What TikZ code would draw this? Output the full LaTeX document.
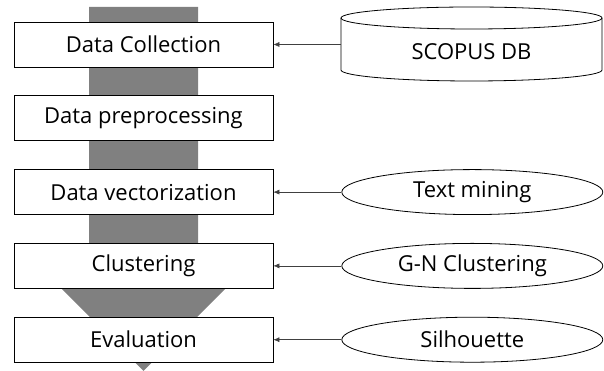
\documentclass[tikz,border=0pt]{standalone}
\usepackage{fontspec}
\setmainfont{Open Sans}
\usetikzlibrary{arrows.meta}
\usetikzlibrary{shapes.geometric}
\usetikzlibrary{positioning}
\definecolor{flowgray}{rgb}{0.5,0.5,0.5}
\tikzset{
  stepbox/.style={draw,fill=white,line width=0.8pt,minimum width=259pt,minimum height=45pt,inner sep=0pt,font=\fontsize{22}{24}\selectfont},
  toolbox/.style={ellipse,draw,fill=white,line width=0.8pt,minimum width=261pt,minimum height=45pt,inner sep=0pt,font=\fontsize{22}{24}\selectfont},
  dbtext/.style={minimum width=261pt,minimum height=56pt,inner sep=0pt,font=\fontsize{22}{24}\selectfont},
  feed/.style={draw=black!75,line width=0.5pt,-{Latex[length=6pt,width=5pt]}}
}
\begin{document}
\begin{tikzpicture}[x=1pt,y=1pt,node distance=28pt]
\useasboundingbox (0,0) rectangle (604,371);
% gray flow arrow behind the steps
\fill[flowgray] (89,364) -- (198,364) -- (198,87) -- (230,87) -- (143.5,0) -- (57,87) -- (89,87) -- cycle;
% steps
\node[stepbox] (collect) at (143.5,326.5) {Data Collection};
\node[stepbox,below=of collect] (prep) {Data preprocessing};
\node[stepbox,below=of prep] (vector) {Data vectorization};
\node[stepbox,below=of vector] (cluster) {Clustering};
\node[stepbox,below=of cluster] (eval) {Evaluation};
% database cylinder
\draw[fill=white,line width=0.8pt] (341,353) -- (341,301) arc[start angle=180,end angle=360,x radius=130.5,y radius=11] -- (602,353) arc[start angle=0,end angle=180,x radius=130.5,y radius=11] -- cycle;
\draw[line width=0.8pt] (341,353) arc[start angle=180,end angle=360,x radius=130.5,y radius=11];
\node[dbtext] (db) at (471.5,319) {SCOPUS DB};
% methods
\node[toolbox,right=68pt of vector] (textmine) {Text mining};
\node[toolbox,right=68pt of cluster] (gn) {G-N Clustering};
\node[toolbox,right=68pt of eval] (sil) {Silhouette};
\draw[feed] (db.west |- collect) -- (collect);
\draw[feed] (textmine) -- (vector);
\draw[feed] (gn) -- (cluster);
\draw[feed] (sil) -- (eval);
\end{tikzpicture}
\end{document}
